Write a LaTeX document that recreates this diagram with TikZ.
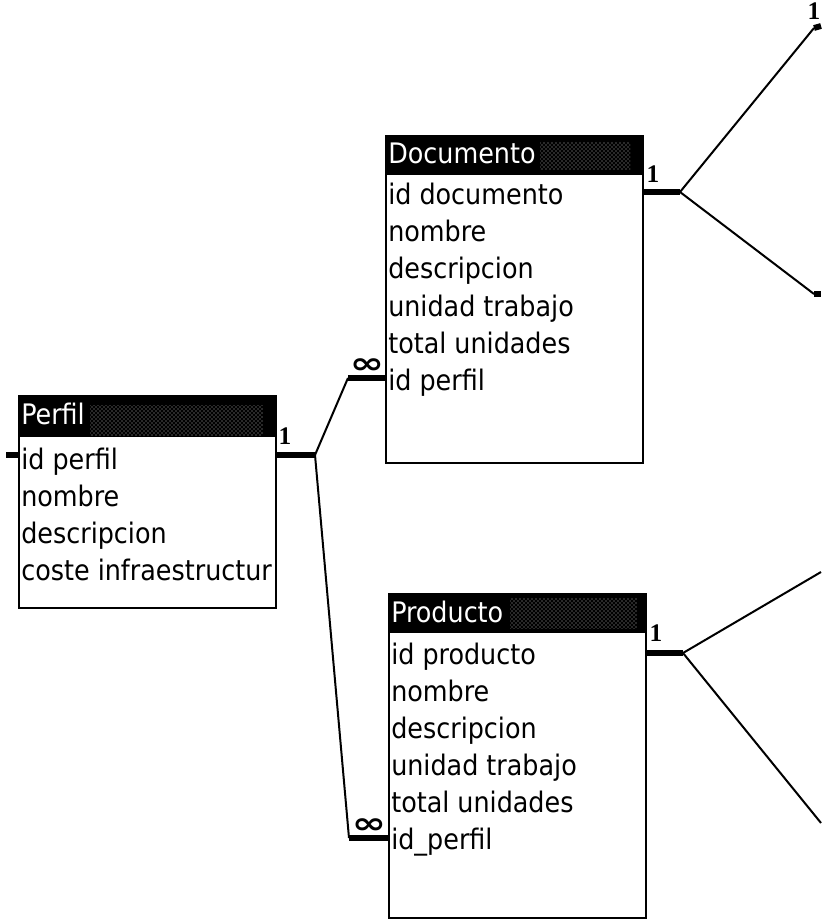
\documentclass[tikz,border=0pt]{standalone}
\usepackage{fontspec}
\setmainfont{DejaVu Sans Condensed}
\newfontfamily\cardfont{Liberation Serif}
\newfontfamily\symfont{DejaVu Sans}
\usetikzlibrary{patterns}

\tikzset{
  tablebox/.style={draw=black, line width=1.5pt, fill=white, inner sep=0pt,
                   anchor=north west, minimum width=192.75pt},
  titlebar/.style={fill=black, inner sep=0pt, anchor=north west,
                   minimum width=192.75pt},
  dither/.style={pattern=crosshatch dots, pattern color=white!70!black},
  field/.style={anchor=base west, inner sep=0pt, text=black},
  ttl/.style={anchor=base west, inner sep=0pt, text=white},
  thickrel/.style={line width=4.4pt},
  thinrel/.style={line width=1.5pt},
  cardlab/.style={font=\cardfont\bfseries\fontsize{19}{19}\selectfont, inner sep=0pt},
  manylab/.style={font=\symfont\bfseries\fontsize{22}{22}\selectfont, inner sep=0pt, xscale=1.4},
}

\begin{document}
\begin{tikzpicture}[x=0.75pt, y=-0.75pt, font=\fontsize{21.2}{23}\selectfont]
\useasboundingbox (0,0) rectangle (821,919);

% ---------- Perfil ----------
\node[tablebox, minimum height=159pt] (perfil) at (18,395) {};
\node[titlebar, minimum height=31.5pt] (perfilT) at (18,395) {};
\fill[dither] (90,405) rectangle (263,435);
\node[ttl] (perfilN) at (21,424) {Perfil};
\node[field] (p1) at (21,469) {id perfil};
\node[field] (p2) at (21,506) {nombre};
\node[field] (p3) at (21,543) {descripcion};
\node[field] (p4) at (21,580) {coste infraestructur};

% ---------- Documento ----------
\node[tablebox, minimum height=245.25pt] (doc) at (385,135) {};
\node[titlebar, minimum height=30pt] (docT) at (385,135) {};
\fill[dither] (540,143) rectangle (630,170);
\node[ttl] (docN) at (388,164) {Documento};
\node[field] (d1) at (388,205) {id documento};
\node[field] (d2) at (388,242) {nombre};
\node[field] (d3) at (388,279) {descripcion};
\node[field] (d4) at (388,316) {unidad trabajo};
\node[field] (d5) at (388,353) {total unidades};
\node[field] (d6) at (388,390) {id perfil};

% ---------- Producto ----------
\node[tablebox, minimum height=243pt] (prod) at (388,593) {};
\node[titlebar, minimum height=30pt] (prodT) at (388,593) {};
\fill[dither] (510,598) rectangle (637,628);
\node[ttl] (prodN) at (391,622) {Producto};
\node[field] (r1) at (391,664) {id producto};
\node[field] (r2) at (391,701) {nombre};
\node[field] (r3) at (391,738) {descripcion};
\node[field] (r4) at (391,775) {unidad trabajo};
\node[field] (r5) at (391,812) {total unidades};
\node[field] (r6) at (391,849) {id\_perfil};

% ---------- junctions and loose ends ----------
\coordinate (j1) at (315,455);
\coordinate (b1) at (348,378);
\coordinate (b2) at (349,838);
\coordinate (j2) at (680,192);
\coordinate (j3) at (683,653);
\coordinate (lstub) at (6,455);
\coordinate (e1) at (814,28);
\coordinate (e1s) at (821,26);
\coordinate (e2) at (814,294);
\coordinate (e2s) at (821,294);
\coordinate (e3) at (821,572);
\coordinate (e4) at (821,823);

% ---------- Perfil relationships ----------
\draw[thickrel] (lstub) -- (perfil.west |- lstub);
\draw[thickrel] (perfil.east |- j1) -- (j1);
\draw[thinrel] (j1) -- (b1);
\draw[thickrel] (b1) -- (doc.west |- b1);
\draw[thinrel] (j1) -- (b2);
\draw[thickrel] (b2) -- (prod.west |- b2);
\node[cardlab] (c1) at (285,436) {1};
\node[manylab] (m1) at (367,366) {∞};
\node[manylab] (m2) at (369,826) {∞};

% ---------- Documento relationships ----------
\draw[thickrel] (doc.east |- j2) -- (j2);
\draw[thinrel] (j2) -- (e1);
\draw[thickrel] (e1) -- (e1s);
\draw[thinrel] (j2) -- (e2);
\draw[thickrel] (e2) -- (e2s);
\node[cardlab] (c2) at (653,174) {1};
\node[cardlab] (c2b) at (814,11) {1};

% ---------- Producto relationships ----------
\draw[thickrel] (prod.east |- j3) -- (j3);
\draw[thinrel] (j3) -- (e3);
\draw[thinrel] (j3) -- (e4);
\node[cardlab] (c3) at (656,633) {1};
\end{tikzpicture}
\end{document}
